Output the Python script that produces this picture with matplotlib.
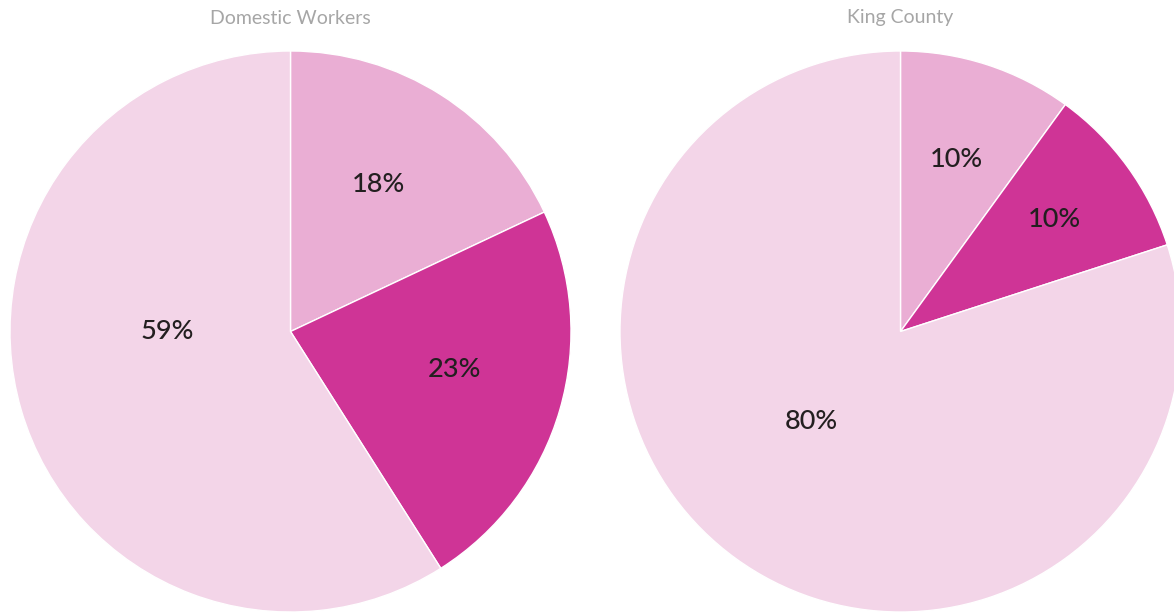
import numpy as np
import matplotlib.pyplot as plt

titles = ["Domestic Workers", "King County"]
shares = [[18, 23, 59], [10, 10, 80]]
colors = ["#EAAED4", "#CF3496", "#F3D5E8"]

# label placement (radius as fraction, extra angle turn in degrees), per pie
label_r = [[0.61, 0.60, 0.44], [0.645, 0.68, 0.45]]
label_turn = [[1.5, 3, -16.2], [0, 0, -8.7]]

W, H = 1174, 614
fig = plt.figure(figsize=(W / 100, H / 100), dpi=100)

# axes boxes in pixels: left, top, size
boxes = [(10, 51, 561), (620, 51, 561)]

for i in range(2):
    left, top, size = boxes[i]
    ax = fig.add_axes([left / W, (H - top - size) / H, size / W, size / H])
    vals = shares[i]
    ax.pie(vals, colors=colors, startangle=90, counterclock=False,
           wedgeprops=dict(edgecolor="white", linewidth=1), radius=1)
    ax.set_xlim(-1, 1)
    ax.set_ylim(-1, 1)
    ax.set_aspect("equal")
    ax.axis("off")

    total = float(sum(vals))
    start = 0.0
    for j, v in enumerate(vals):
        mid = start + v / total / 2
        ang = np.deg2rad(90 - mid * 360 + label_turn[i][j])
        r = label_r[i][j]
        ax.text(r * np.cos(ang), r * np.sin(ang), "%d%%" % v,
                ha="center", va="center", fontsize=19.5, color="#231F20",
                family="Lato", fontweight="medium")
        start += v / total

    fig.text((left + size / 2) / W, 1 - 18 / H, titles[i], ha="center",
             va="center", fontsize=14, color="#A6A6A6", family="Lato")

fig.savefig("out.png", dpi=100)
